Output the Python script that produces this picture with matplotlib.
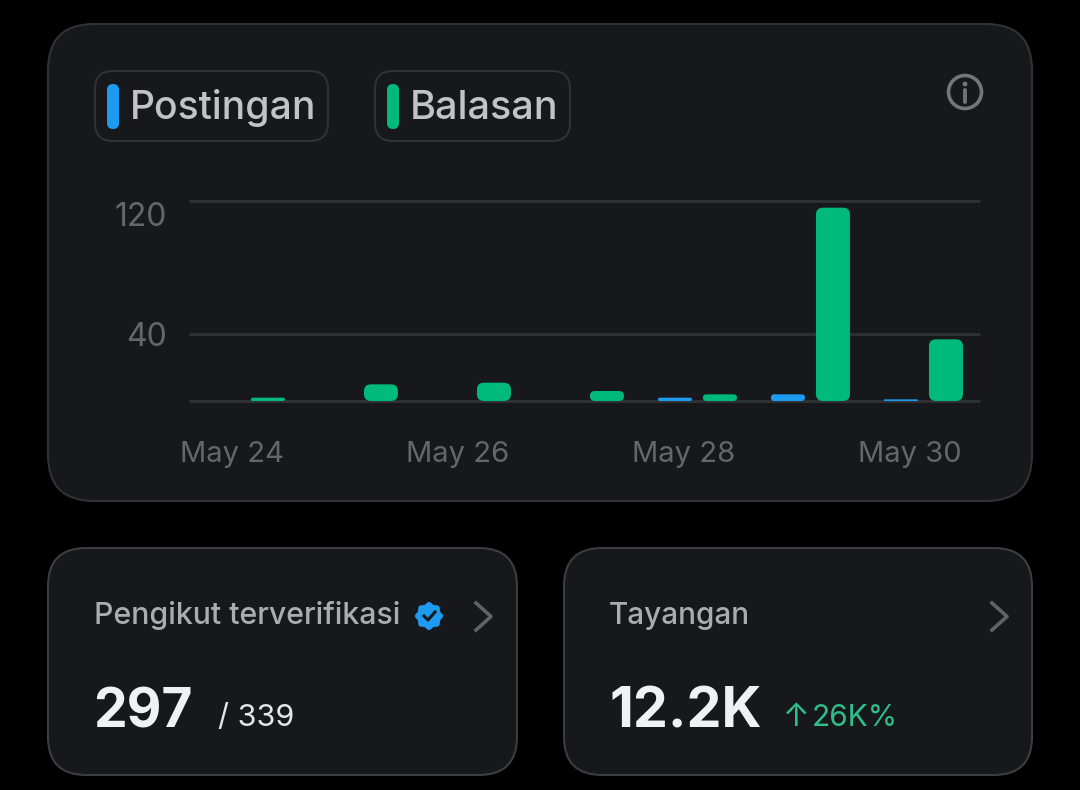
import numpy as np
import matplotlib
matplotlib.use("Agg")
import matplotlib.pyplot as plt
from matplotlib.patches import FancyBboxPatch, Circle, Polygon
from matplotlib.transforms import ScaledTranslation

plt.rcParams['font.family'] = ['Inter', 'DejaVu Sans']

# values
days = ["May 24", "May 25", "May 26", "May 27", "May 28", "May 29", "May 30"]
postingan = [0, 0, 0, 0, 2, 4, 1]
balasan = [2, 10, 11, 6, 4, 116, 37]
y_ticks = [0, 40, 120]
y_tick_labels = ["", "40", "120"]
series_names = ["Postingan", "Balasan"]

BLUE = "#1d9bf0"
GREEN = "#00ba7c"
CARD = "#17181c"
BORDER = "#2f3336"
W, H = 1080, 790


def rounded(ax, x0, y0, x1, y1, r, face, edge="none", lw=0, aspect=1.0, z=1):
    # rounded box, r is in x units
    p = FancyBboxPatch((x0, y0), x1 - x0, y1 - y0,
                       boxstyle=f"round,pad=0,rounding_size={r}",
                       mutation_aspect=aspect, facecolor=face, edgecolor=edge,
                       linewidth=lw, zorder=z)
    ax.add_patch(p)
    return p


fig = plt.figure(figsize=(W / 100, H / 100), dpi=100, facecolor="black")

# page layer in pixel coordinates
bg = fig.add_axes([0, 0, 1, 1])
bg.set_xlim(0, W)
bg.set_ylim(H, 0)
bg.axis("off")

rounded(bg, 48, 24, 1032, 501, 46, CARD, BORDER, 1.5)
rounded(bg, 48, 548, 517, 775, 38, CARD, "#3a3d41", 1.5)
rounded(bg, 564, 548, 1032, 775, 38, CARD, "#3a3d41", 1.5)

# legend chips
rounded(bg, 95, 71, 328, 141, 18, CARD, BORDER, 1.5)
rounded(bg, 375, 71, 570, 141, 18, CARD, BORDER, 1.5)
rounded(bg, 107, 84, 119, 129, 6, BLUE)
rounded(bg, 387, 84, 399, 129, 6, GREEN)
bg.text(130, 119, series_names[0], color="#c0c3c7", fontsize=28.1, fontweight="medium", va="baseline", ha="left")
bg.text(410, 119, series_names[1], color="#c0c3c7", fontsize=28.5, fontweight="medium", va="baseline", ha="left")

# info icon
bg.add_patch(Circle((965, 92), 16.5, facecolor="none", edgecolor="#71767b", linewidth=2.6))
bg.add_patch(Circle((965, 84), 2.4, facecolor="#71767b"))
bg.plot([965, 965], [90, 102], color="#71767b", lw=2.8, solid_capstyle="round")

# bottom cards
bg.text(94, 624, "Pengikut terverifikasi", color="#a9acb0", fontsize=21.8, fontweight="medium", va="baseline")
bg.text(609, 624, "Tayangan", color="#a9acb0", fontsize=21.4, fontweight="medium", va="baseline")
bg.text(93, 727, "297", color="#eff1f3", fontsize=38.5, fontweight="bold", va="baseline")
bg.text(218, 726, "/ 339", color="#e4e6e8", fontsize=22, va="baseline")
bg.text(609, 727, "12.2K", color="#eff1f3", fontsize=40, fontweight="bold", va="baseline")
bg.text(783, 726, "↑", color="#2fbf8a", fontsize=23, va="baseline")
bg.text(812, 726, "26K%", color="#2fbf8a", fontsize=21.5, va="baseline")

# verified badge
ang = np.linspace(0, 2 * np.pi, 121)
rad = 13 + 1.0 * np.cos(8 * ang)
bg.add_patch(Polygon(np.c_[429 + rad * np.cos(ang), 616 + rad * np.sin(ang)], facecolor=BLUE))
bg.plot([424, 428, 435], [616, 620, 612], color="#16181c", lw=2.2)

# chevrons
for cx in [476, 992]:
    bg.plot([cx, cx + 15, cx], [603, 616.5, 630], color="#5f6368", lw=2.6)

# chart
ax = fig.add_axes([189 / W, 1 - 401 / H, 791 / W, 200 / H])
ax.patch.set_alpha(0)
ax.set_xlim(-0.38, 6.62)
ax.set_ylim(0, 120)
for s in ax.spines.values():
    s.set_visible(False)

ax.set_yticks(y_ticks)
ax.set_yticklabels(y_tick_labels)
ax.set_xticks(range(0, 7, 2))
ax.set_xticklabels(days[::2])
ax.tick_params(length=0, colors="#63676b", labelsize=21)
ax.tick_params(axis="y", pad=16, labelsize=23)
ax.tick_params(axis="x", pad=29)
lab = ax.get_yticklabels()[2]
lab.set_transform(lab.get_transform() + ScaledTranslation(0, -13 / 100, fig.dpi_scale_trans))
ax.grid(axis="y", color=BORDER, lw=2.0, clip_on=False, solid_capstyle="butt")
ax.set_axisbelow(True)

# bars: day units / value units, rounded corners
px_x = 113.0
px_y = 200 / 120
bar_w = 34 / px_x
aspect = px_x / px_y
for i in range(len(days)):
    for val, off, col in [(postingan[i], -9 / px_x, BLUE), (balasan[i], 36 / px_x, GREEN)]:
        if val == 0:
            continue
        r = min(7 / px_x, val * px_y / 2 / px_x)
        rounded(ax, i + off - bar_w / 2, 0, i + off + bar_w / 2, val, r, col, aspect=aspect, z=3)

fig.savefig("out.png", dpi=100, facecolor="black")
